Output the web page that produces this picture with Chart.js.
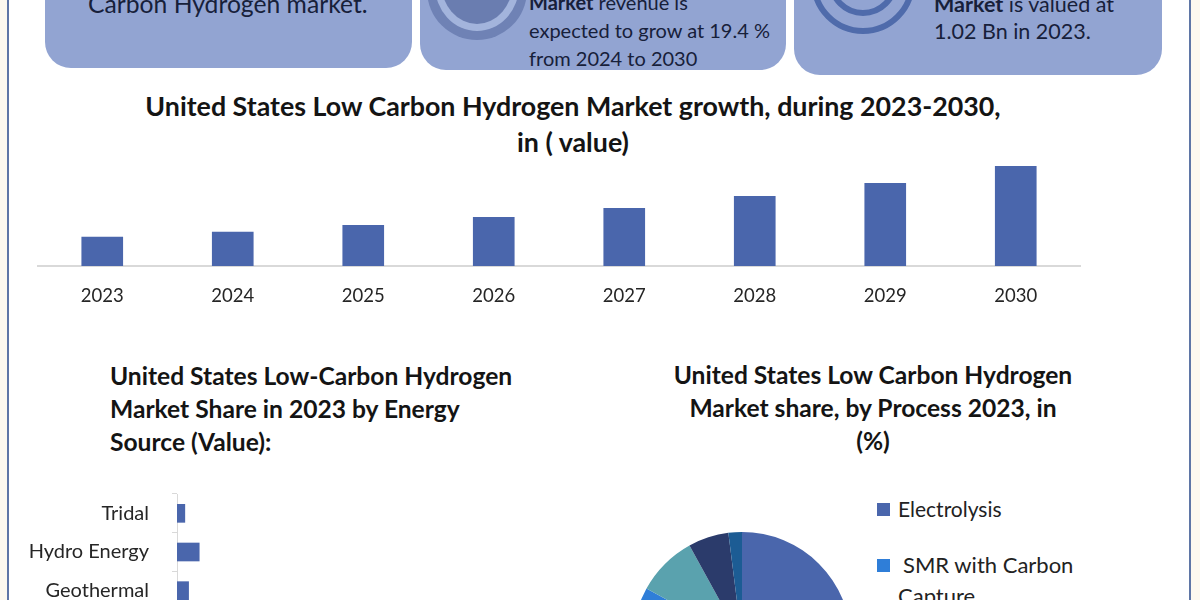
<!DOCTYPE html>
<html>
<head>
<meta charset="utf-8">
<title>United States Low Carbon Hydrogen Market</title>
<script src="https://cdn.jsdelivr.net/npm/chart.js@4"></script>
<style>
    html, body { margin: 0; padding: 0; width: 1200px; height: 600px; overflow: hidden; background: #fdf9ef; }
    body { position: relative; font-family: Lato, sans-serif; color: #1a1a1a; }
    .sheet { position: absolute; left: 7px; top: 0; width: 1180px; height: 600px; background: #fff;
             border-left: 2px solid #5f76a6; border-right: 2px solid #5f76a6; }
    .card { position: absolute; top: -40px; background: #92a4d2; border-radius: 26px; overflow: hidden; }
    .ring { position: absolute; border-radius: 50%; box-sizing: border-box; }
    .txt { position: absolute; white-space: nowrap; color: #17203a; line-height: 1; }
    .title { position: absolute; font-weight: 700; color: #141414; font-size: 24.6px; line-height: 33px; white-space: nowrap; }
    canvas { position: absolute; }
    .legend { position: absolute; font-size: 21px; line-height: 1; color: #222; white-space: nowrap; }
    .legend i { position: absolute; width: 13px; height: 13px; }
</style>
</head>
<body>
<div class="sheet"></div>

<div class="card" style="left:45px;width:367px;height:108px"></div>
<div class="card" style="left:420px;width:366px;height:110px">
    <div class="ring" style="left:7px;top:-20px;width:100px;height:100px;background:#6f82b5"></div>
    <div class="ring" style="left:15px;top:-20px;width:84px;height:91px;background:#a3b4dc"></div>
    <div class="ring" style="left:21px;top:-20px;width:72px;height:84px;background:#6a7db0"></div>
</div>
<div class="card" style="left:794px;width:368px;height:115px">
    <div class="ring" style="left:17px;top:-30px;width:104px;height:104px;border:6px solid #4f6bab"></div>
    <div class="ring" style="left:34px;top:-14px;width:70px;height:70px;border:6px solid #4f6bab"></div>
</div>

<div class="txt" style="left:88px;top:-8px;font-size:24.7px">Carbon Hydrogen market.</div>
<div class="txt" style="left:529px;top:-8px;font-size:20px"><b>Market</b> revenue is</div>
<div class="txt" style="left:529px;top:20px;font-size:20px">expected to grow at 19.4 %</div>
<div class="txt" style="left:529px;top:48px;font-size:20px">from 2024 to 2030</div>
<div class="txt" style="left:934px;top:-6px;font-size:21.5px"><b>Market</b> is valued at</div>
<div class="txt" style="left:934px;top:21px;font-size:21.5px">1.02 Bn in 2023.</div>

<div class="title" style="left:0;width:1146px;top:88px;text-align:center;font-size:26.8px;line-height:36px">United States Low Carbon Hydrogen Market growth, during 2023-2030,<br>in ( value)</div>
<div class="title" style="left:110px;top:359px">United States Low-Carbon Hydrogen<br>Market Share in 2023 by Energy<br>Source (Value):</div>
<div class="title" style="left:473px;width:800px;top:358px;text-align:center">United States Low Carbon Hydrogen<br>Market share, by Process 2023, in<br>(%)</div>

<canvas id="growthChart" width="1044" height="170" style="left:37px;top:150px"></canvas>
<canvas id="sourceChart" width="480" height="126" style="left:10px;top:484px"></canvas>
<canvas id="processChart" width="218" height="218" style="left:633px;top:532px"></canvas>

<div id="processLegend"></div>

<script>
    // Valores
    const years = ['2023', '2024', '2025', '2026', '2027', '2028', '2029', '2030'];
    const growthValues = [1.02, 1.20, 1.44, 1.72, 2.04, 2.46, 2.92, 3.52];

    const sourceLabels = ['Tridal', 'Hydro Energy', 'Geothermal'];
    const sourceValues = [2.5, 7.1, 3.7];

    const processLabels = ['Electrolysis', 'SMR with Carbon Capture', '', '', ''];
    const processValues = [70, 13, 9, 6, 2];
    const processColors = ['#4a66ac', '#2f7ed8', '#5aa2ae', '#2b3b6b', '#1c5c94'];

    const barColor = '#4a66ac';
    const axisColor = '#d9d9d9';

    Chart.defaults.animation = false;
    Chart.defaults.responsive = false;
    Chart.defaults.plugins.legend.display = false;
    Chart.defaults.plugins.tooltip.enabled = false;

    new Chart(document.getElementById('growthChart'), {
        type: 'bar',
        data: {
            labels: years,
            datasets: [{ data: growthValues, backgroundColor: barColor, barThickness: 41 }]
        },
        options: {
            scales: {
                x: {
                    afterFit: (axis) => { axis.height = 54; },
                    border: { color: axisColor, width: 2 },
                    grid: { display: false },
                    ticks: { color: '#262626', font: { family: 'Lato', size: 18.5 }, padding: 11, maxRotation: 0, autoSkip: false }
                },
                y: { display: false, min: 0, max: 4.1 }
            }
        }
    });

    new Chart(document.getElementById('sourceChart'), {
        type: 'bar',
        data: {
            labels: sourceLabels,
            datasets: [{ data: sourceValues, backgroundColor: barColor, barThickness: 18 }]
        },
        options: {
            indexAxis: 'y',
            layout: { padding: { top: 10 } },
            scales: {
                x: { display: false, min: 0, max: 100 },
                y: {
                    afterFit: (axis) => { axis.width = 167; axis.paddingTop = 0; axis.paddingBottom = 0; },
                    border: { color: axisColor, width: 1 },
                    grid: { offset: true, drawOnChartArea: false, tickLength: 5, color: axisColor },
                    ticks: { color: '#262626', font: { family: 'Lato', size: 20 }, padding: 23, autoSkip: false }
                }
            }
        }
    });

    new Chart(document.getElementById('processChart'), {
        type: 'pie',
        data: {
            labels: processLabels,
            datasets: [{ data: processValues, backgroundColor: processColors, borderWidth: 0 }]
        }
    });

    // Legenda montada a partir dos arrays, porque o rótulo quebra em duas linhas
    const legendRows = [
        { index: 0, top: 498, lines: [processLabels[0]], x: 898 },
        { index: 1, top: 554, lines: ['SMR with Carbon', 'Capture'], x: 903 }
    ];
    const legendBox = document.getElementById('processLegend');
    legendRows.forEach((row) => {
        const swatch = document.createElement('div');
        swatch.className = 'legend';
        swatch.style.left = '877px';
        swatch.style.top = (row.top + 5) + 'px';
        swatch.innerHTML = '<i style="background:' + processColors[row.index] + '"></i>';
        legendBox.appendChild(swatch);
        row.lines.forEach((line, i) => {
            const text = document.createElement('div');
            text.className = 'legend';
            text.style.left = (i === 0 ? row.x : 898) + 'px';
            text.style.top = (row.top + i * 31) + 'px';
            text.style.fontSize = (row.index === 1 ? 22 : 21) + 'px';
            text.textContent = line;
            legendBox.appendChild(text);
        });
    });
</script>
</body>
</html>
